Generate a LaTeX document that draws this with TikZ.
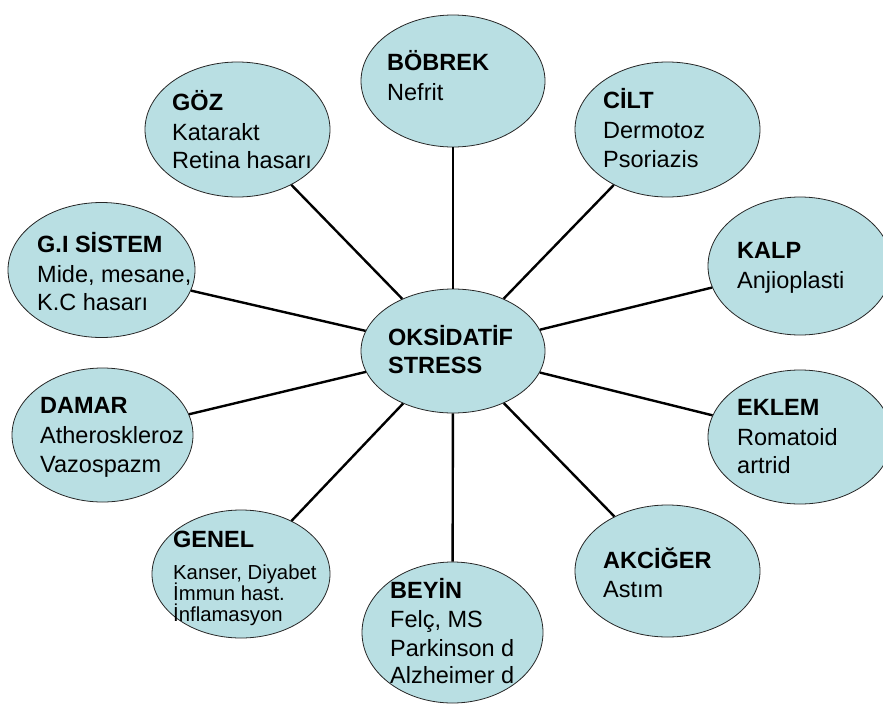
\documentclass[tikz,border=0pt]{standalone}
\usepackage{fontspec}
\setmainfont{Liberation Sans}
\usetikzlibrary{shapes.geometric}
\definecolor{bluefill}{RGB}{185,223,227}
\tikzset{
  blob/.style={ellipse, draw=black!85, line width=0.8pt, fill=bluefill, inner sep=0pt},
  link/.style={line width=2.4pt, black},
  ttl/.style={anchor=base west, inner sep=0pt, font=\bfseries\fontsize{23.5}{29}\selectfont},
  txt/.style={anchor=base west, inner sep=0pt, font=\fontsize{23.5}{29}\selectfont},
  smalltxt/.style={anchor=base west, inner sep=0pt, font=\fontsize{20.3}{21}\selectfont}
}
\begin{document}
\begin{tikzpicture}[x=1pt,y=-1pt]
\useasboundingbox (0,0) rectangle (883,707);
% ellipses
\node[blob, minimum width=184pt, minimum height=124pt] (c) at (453,351) {};
\node[blob, minimum width=184pt, minimum height=132pt] (bobrek) at (453,81) {};
\node[blob, minimum width=185pt, minimum height=135pt] (goz) at (237.5,129.5) {};
\node[blob, minimum width=185pt, minimum height=135pt] (cilt) at (667.5,129.5) {};
\node[blob, minimum width=187pt, minimum height=135pt] (gi) at (101.5,270) {};
\node[blob, minimum width=184pt, minimum height=138pt] (kalp) at (800,266) {};
\node[blob, minimum width=181pt, minimum height=134pt] (damar) at (102.5,435) {};
\node[blob, minimum width=184pt, minimum height=134pt] (eklem) at (800,437) {};
\node[blob, minimum width=178pt, minimum height=128pt] (genel) at (241,574) {};
\node[blob, minimum width=185pt, minimum height=132pt] (akciger) at (667.5,571) {};
\node[blob, minimum width=181pt, minimum height=141pt] (beyin) at (452.5,632.5) {};
% connectors
\foreach \n in {bobrek,goz,cilt,gi,kalp,damar,eklem,genel,akciger,beyin}
  \draw[link] (c) -- (\n);
% texts
\node[ttl] (c-1) at (388,345) {OKSİDATİF};
\node[ttl] (c-2) at (388,373) {STRESS};

\node[ttl] (bobrek-1) at (387,70) {BÖBREK};
\node[txt] (bobrek-2) at (387,100) {Nefrit};

\node[ttl] (goz-1) at (172,110) {GÖZ};
\node[txt] (goz-2) at (172,140) {Katarakt};
\node[txt] (goz-3) at (172,168) {Retina hasarı};

\node[ttl] (cilt-1) at (603,108) {CİLT};
\node[txt] (cilt-2) at (603,138) {Dermotoz};
\node[txt] (cilt-3) at (603,167) {Psoriazis};

\node[ttl] (gi-1) at (37,252) {G.I SİSTEM};
\node[txt] (gi-2) at (37,282) {Mide, mesane,};
\node[txt] (gi-3) at (37,310) {K.C hasarı};

\node[ttl] (kalp-1) at (737,258) {KALP};
\node[txt] (kalp-2) at (737,288) {Anjioplasti};

\node[ttl] (damar-1) at (40,413) {DAMAR};
\node[txt] (damar-2) at (40,443) {Atheroskleroz};
\node[txt] (damar-3) at (40,472) {Vazospazm};

\node[ttl] (eklem-1) at (737,415) {EKLEM};
\node[txt] (eklem-2) at (737,445) {Romatoid};
\node[txt] (eklem-3) at (737,473) {artrid};

\node[ttl] (genel-1) at (173,547) {GENEL};
\node[smalltxt] (genel-2) at (173,579) {Kanser, Diyabet};
\node[smalltxt] (genel-3) at (173,600) {İmmun hast.};
\node[smalltxt] (genel-4) at (173,621) {İnflamasyon};

\node[ttl] (akciger-1) at (603,568) {AKCİĞER};
\node[txt] (akciger-2) at (603,597) {Astım};

\node[ttl] (beyin-1) at (390,598) {BEYİN};
\node[txt] (beyin-2) at (390,627) {Felç, MS};
\node[txt] (beyin-3) at (390,656) {Parkinson d};
\node[txt] (beyin-4) at (390,683) {Alzheimer d};
\end{tikzpicture}
\end{document}
